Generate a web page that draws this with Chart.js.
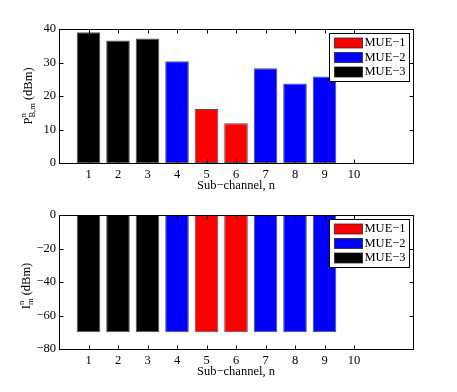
<!DOCTYPE html>
<html>
<head>
<meta charset="utf-8">
<script src="https://cdn.jsdelivr.net/npm/chart.js@4"></script>
<style>
  html, body { margin: 0; padding: 0; background: #fff; }
  .wrap { position: absolute; left: 0; width: 457px; height: 196px; }
  #w1 { top: 0; }
  #w2 { top: 196px; }
</style>
</head>
<body>
<div class="wrap" id="w1"><canvas id="powerChart"></canvas></div>
<div class="wrap" id="w2"><canvas id="interfChart"></canvas></div>
<script>
// sub-channels used by each MUE
var mue1Channels = [5, 6];
var mue2Channels = [4, 7, 8, 9];
var mue3Channels = [1, 2, 3];

// transmit power P^n_{B,m} (dBm), same order as the channel lists
var mue1Power = [16.1, 11.9];
var mue2Power = [30.4, 28.3, 23.7, 25.8];
var mue3Power = [39.0, 36.6, 37.2];

// interference I^n_m (dBm)
var mue1Interf = [-70, -70];
var mue2Interf = [-70, -70, -70, -70];
var mue3Interf = [-70, -70, -70];

var xTicks = [1, 2, 3, 4, 5, 6, 7, 8, 9, 10];
var seriesNames = ['MUE\u22121', 'MUE\u22122', 'MUE\u22123'];
var seriesColors = ['#ff0000', '#0000ff', '#000000'];

var serif = '"Liberation Serif", "Times New Roman", serif';

function pts(xs, ys) {
  return xs.map(function (x, i) { return { x: x, y: ys[i] }; });
}

function makeDatasets(v1, v2, v3) {
  var vals = [v1, v2, v3];
  var chans = [mue1Channels, mue2Channels, mue3Channels];
  return seriesNames.map(function (name, i) {
    return {
      label: name,
      data: pts(chans[i], vals[i]),
      backgroundColor: seriesColors[i],
      borderColor: 'rgba(40,40,40,0.8)',
      borderWidth: 1,
      borderSkipped: false,
      barPercentage: 0.8,
      categoryPercentage: 1.0,
      grouped: false
    };
  });
}

// matlab style frame, inward ticks, legend and axis titles
var matlabFrame = {
  id: 'matlabFrame',
  afterDraw: function (chart, args, opts) {
    var ctx = chart.ctx, a = chart.chartArea;
    var xs = chart.scales.x, ys = chart.scales.y;
    ctx.save();
    ctx.strokeStyle = '#000';
    ctx.lineWidth = 1;
    var L = Math.round(a.left) + 0.5, R = Math.round(a.right) + 0.5;
    var T = Math.round(a.top) + 0.5, B = Math.round(a.bottom) + 0.5;
    ctx.strokeRect(L, T, R - L, B - T);
    ctx.beginPath();
    xTicks.forEach(function (v) {
      var px = Math.round(xs.getPixelForValue(v)) + 0.5;
      ctx.moveTo(px, B); ctx.lineTo(px, B - 4);
      ctx.moveTo(px, T); ctx.lineTo(px, T + 4);
    });
    ys.ticks.forEach(function (t) {
      var py = Math.round(ys.getPixelForValue(t.value)) + 0.5;
      ctx.moveTo(L, py); ctx.lineTo(L + 4, py);
      ctx.moveTo(R, py); ctx.lineTo(R - 4, py);
    });
    ctx.stroke();

    // x title
    ctx.fillStyle = '#000';
    ctx.font = '12.5px ' + serif;
    ctx.textAlign = 'center';
    ctx.textBaseline = 'middle';
    ctx.fillText('Sub\u2212channel, n', (a.left + a.right) / 2, a.bottom + 23);

    // y title with super/subscript, rotated
    var big = '12.5px ' + serif, small = '8.5px ' + serif;
    ctx.font = big;
    var wBase = ctx.measureText(opts.base).width;
    var wTail = ctx.measureText(' (dBm)').width;
    ctx.font = small;
    var wScript = Math.max(ctx.measureText(opts.sup).width, ctx.measureText(opts.sub).width);
    var total = wBase + wScript + wTail;
    ctx.translate(opts.titleX, (a.top + a.bottom) / 2 + opts.shift);
    ctx.rotate(-Math.PI / 2);
    ctx.textAlign = 'left';
    ctx.textBaseline = 'alphabetic';
    var x0 = -total / 2, base = 4;
    ctx.font = big;
    ctx.fillText(opts.base, x0, base);
    ctx.font = small;
    ctx.fillText(opts.sup, x0 + wBase, base - 6);
    ctx.fillText(opts.sub, x0 + wBase, base + 3);
    ctx.font = big;
    ctx.fillText(' (dBm)', x0 + wBase + wScript, base);
    ctx.setTransform(1, 0, 0, 1, 0, 0);

    // legend box in upper right
    var lw = 80, lh = 48;
    var lx = Math.round(a.right) - 4 - lw + 0.5, ly = Math.round(a.top) + 4 + 0.5;
    ctx.fillStyle = '#fff';
    ctx.fillRect(lx, ly, lw, lh);
    ctx.strokeStyle = '#000';
    ctx.strokeRect(lx, ly, lw, lh);
    ctx.font = '12.5px ' + serif;
    ctx.textBaseline = 'middle';
    chart.data.datasets.forEach(function (ds, i) {
      var cy = ly + 9.5 + i * 14.5;
      ctx.fillStyle = ds.backgroundColor;
      ctx.fillRect(lx + 5, cy - 5, 28, 10);
      ctx.strokeStyle = 'rgba(40,40,40,0.8)';
      ctx.strokeRect(lx + 5, cy - 5, 28, 10);
      ctx.fillStyle = '#000';
      ctx.fillText(ds.label, lx + 35, cy);
    });
    ctx.restore();
  }
};

function baseOptions(yMin, yMax, step, topPad, xHeight, titleOpts) {
  return {
    responsive: false,
    animation: false,
    layout: { padding: { top: topPad, right: 44, left: 0, bottom: 0 } },
    plugins: {
      legend: { display: false },
      tooltip: { enabled: false },
      matlabFrame: titleOpts
    },
    scales: {
      x: {
        type: 'linear',
        min: 0, max: 12,
        offset: false,
        grid: { display: false, drawTicks: false },
        border: { display: false },
        ticks: {
          stepSize: 1,
          autoSkip: false,
          maxRotation: 0,
          padding: 4,
          color: '#000',
          font: { family: serif, size: 12.5 },
          callback: function (v) { return xTicks.indexOf(v) >= 0 ? String(v) : ''; }
        },
        afterFit: function (s) { s.height = xHeight; }
      },
      y: {
        min: yMin, max: yMax,
        grid: { display: false, drawTicks: false },
        border: { display: false },
        ticks: {
          stepSize: step,
          padding: 3,
          color: '#000',
          font: { family: serif, size: 12.5 },
          callback: function (v) { return String(v).replace('-', '\u2212'); }
        },
        afterFit: function (s) { s.width = 59; }
      }
    }
  };
}

function setup(id) {
  var c = document.getElementById(id);
  c.width = 457; c.height = 196;
  c.style.width = '457px'; c.style.height = '196px';
  return c;
}

new Chart(setup('powerChart'), {
  type: 'bar',
  data: { datasets: makeDatasets(mue1Power, mue2Power, mue3Power) },
  options: baseOptions(0, 40, 10, 29, 33, { base: 'P', sup: 'n', sub: 'B,m', titleX: 28, shift: 0 }),
  plugins: [matlabFrame]
});

new Chart(setup('interfChart'), {
  type: 'bar',
  data: { datasets: makeDatasets(mue1Interf, mue2Interf, mue3Interf) },
  options: baseOptions(-80, 0, 20, 19, 43, { base: 'I', sup: 'n', sub: 'm', titleX: 26, shift: 4 }),
  plugins: [matlabFrame]
});
</script>
</body>
</html>
